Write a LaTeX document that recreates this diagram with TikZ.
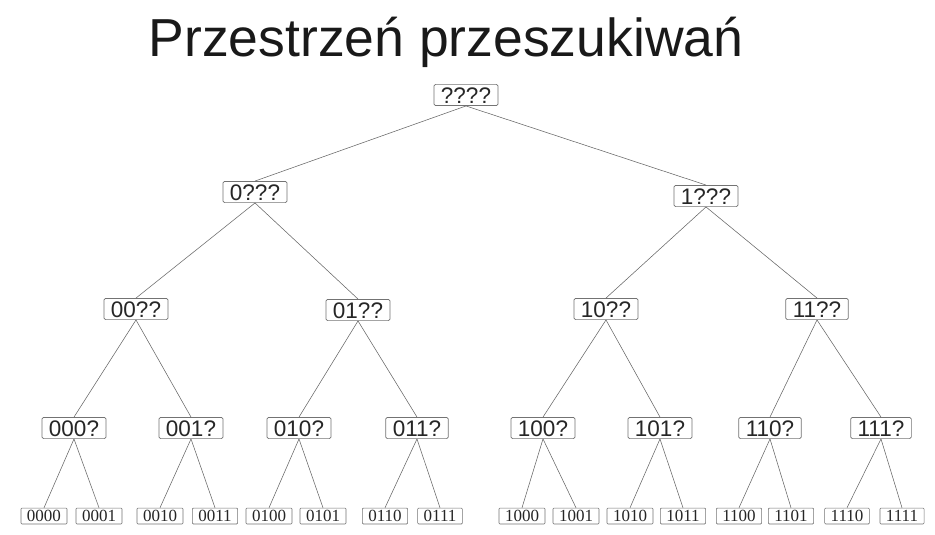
\documentclass[tikz,border=0pt]{standalone}
\usepackage{fontspec}
\setmainfont{Liberation Sans}
\newfontfamily\leaffont{Liberation Serif}
\begin{document}
\begin{tikzpicture}[x=1pt,y=-1pt,
  inner/.style={draw=black!55, rounded corners=1.5pt, line width=0.7pt, fill=white,
    font=\fontsize{22.5}{22.5}\selectfont, text=black!85, inner xsep=7pt, inner ysep=2.6pt,
    text height=16pt, text depth=0pt},
  leaf/.style={draw=black!55, rounded corners=1pt, line width=0.6pt, fill=white,
    font=\leaffont\fontsize{17}{17}\selectfont, text=black!85, inner xsep=6pt, inner ysep=2.2pt,
    text height=11.5pt, text depth=0pt},
  edge/.style={draw=black!60, line width=0.55pt}]
\useasboundingbox (0,0) rectangle (935,535);
\node[font=\fontsize{53.5}{54}\selectfont, text=black!90, anchor=base] (title) at (446,57) {Przestrzeń przeszukiwań};
% levels
\node[inner] (r) at (466,95) {????};
\node[inner] (n0) at (255,192) {0???};
\node[inner] (n1) at (706,196) {1???};
\node[inner] (n00) at (136,309) {00??};
\node[inner] (n01) at (358,310) {01??};
\node[inner] (n10) at (606,309) {10??};
\node[inner] (n11) at (817,309) {11??};
\node[inner] (n000) at (74,428) {000?};
\node[inner] (n001) at (191,428) {001?};
\node[inner] (n010) at (299,428) {010?};
\node[inner] (n011) at (417,428) {011?};
\node[inner] (n100) at (543,428) {100?};
\node[inner] (n101) at (660,428) {101?};
\node[inner] (n110) at (770,428) {110?};
\node[inner] (n111) at (881,428) {111?};
\foreach \name/\x in {0000/44,0001/99,0010/160,0011/215,0100/269,0101/323,0110/385,0111/440,
  1000/522,1001/576,1010/630,1011/683,1100/739,1101/791,1110/847,1111/902}
  \node[leaf] (l\name) at (\x,516) {\name};
% edges
\foreach \p/\c in {r/n0,r/n1,n0/n00,n0/n01,n1/n10,n1/n11,
  n00/n000,n00/n001,n01/n010,n01/n011,n10/n100,n10/n101,n11/n110,n11/n111}
  \draw[edge] (\p.south) -- (\c.north);
\foreach \p/\a/\b in {000/0000/0001,001/0010/0011,010/0100/0101,011/0110/0111,
  100/1000/1001,101/1010/1011,110/1100/1101,111/1110/1111}{
  \draw[edge] (n\p.south) -- (l\a.north);
  \draw[edge] (n\p.south) -- (l\b.north);
}
\end{tikzpicture}
\end{document}
